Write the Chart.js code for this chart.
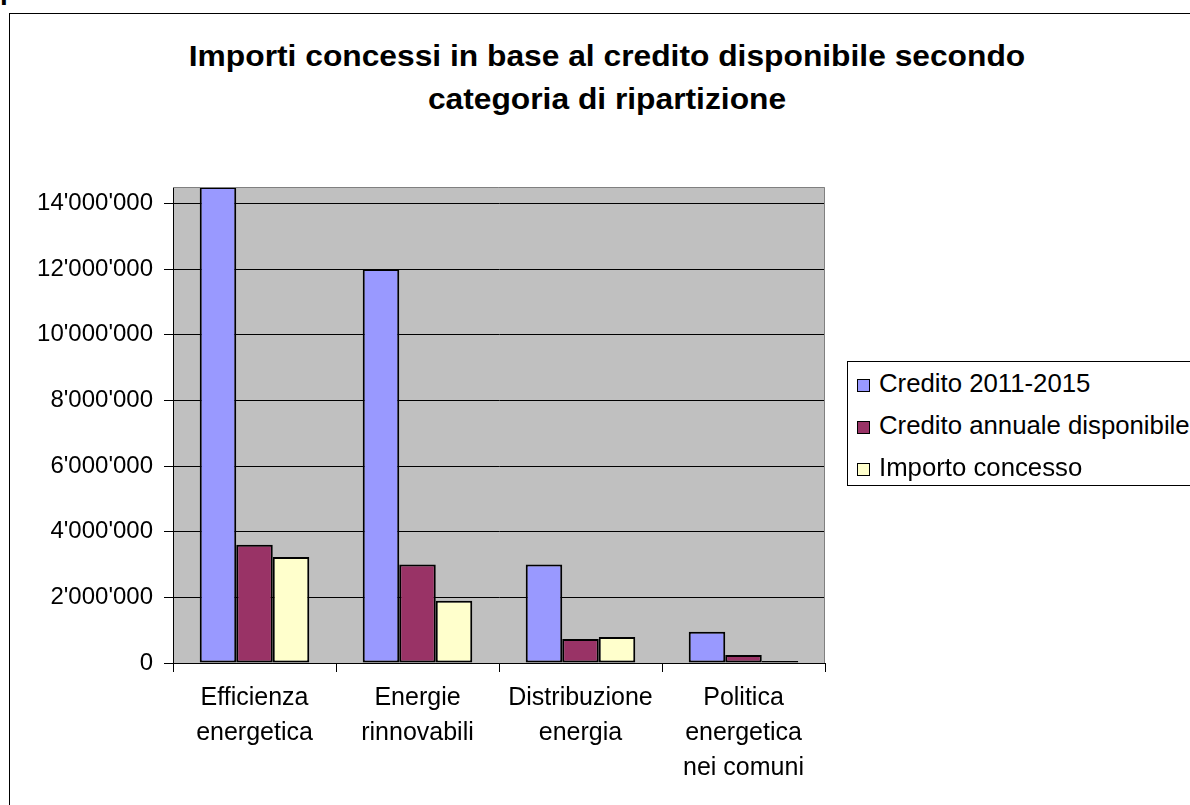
<!DOCTYPE html>
<html>
<head>
<meta charset="utf-8">
<script src="https://cdn.jsdelivr.net/npm/chart.js@4/dist/chart.umd.min.js"></script>
<style>
  html, body {
    margin: 0;
    padding: 0;
    width: 1190px;
    height: 805px;
    overflow: hidden;
    background: #fff;
    font-family: Arial, 'Liberation Sans', sans-serif;
  }
  .frame {
    position: absolute;
    left: 9px;
    top: 13px;
    width: 1400px;
    height: 1000px;
    border: 1px solid #000;
  }
  .stray {
    position: absolute;
    left: 0;
    top: -24px;
    font-size: 28px;
    line-height: 28px;
    font-weight: bold;
  }
  .title {
    position: absolute;
    left: 107px;
    width: 1000px;
    top: 35px;
    text-align: center;
    font-size: 29px;
    line-height: 43px;
    font-weight: bold;
    color: #000;
    transform: scaleX(1.095);
    transform-origin: 500px 0;
  }
  canvas {
    position: absolute;
    left: 0;
    top: 0;
  }
  .legend {
    position: absolute;
    left: 847px;
    top: 361px;
    width: 400px;
    height: 125px;
    border: 1px solid #000;
    background: #fff;
    box-sizing: border-box;
  }
  .legend__item {
    height: 42px;
    line-height: 42px;
    font-size: 25px;
    white-space: nowrap;
    position: relative;
    padding-left: 31px;
  }
  .legend__text {
    display: inline-block;
    transform: scaleX(1.03);
    transform-origin: 0 0;
  }
  .legend__box {
    position: absolute;
    left: 9px;
    top: 17px;
    width: 11px;
    height: 11px;
    border: 1px solid #000;
  }
</style>
</head>
<body>
<div class="frame"></div>
<div class="stray">p</div>
<div class="title">Importi concessi in base al credito disponibile secondo<br>categoria di ripartizione</div>
<canvas id="chart" width="1190" height="805"></canvas>
<div class="legend" data-type="legend"></div>

<script>
const categories = [
  ['Efficienza', 'energetica'],
  ['Energie', 'rinnovabili'],
  ['Distribuzione', 'energia'],
  ['Politica', 'energetica', 'nei comuni']
]
const seriesNames = ['Credito 2011-2015', 'Credito annuale disponibile', 'Importo concesso']
const credito = [14500000, 12000000, 3000000, 950000]
const creditoAnnuale = [3600000, 3000000, 730000, 240000]
const importoConcesso = [3230000, 1900000, 790000, 60000]
const yTicks = [0, 2000000, 4000000, 6000000, 8000000, 10000000, 12000000, 14000000]
const colors = ['#9999FF', '#993366', '#FFFFCC']

const plotBg = {
  id: 'plotBg',
  beforeDraw(chart) {
    const {ctx, chartArea: {left, top, right, bottom}} = chart
    ctx.save()
    ctx.fillStyle = '#C0C0C0'
    ctx.fillRect(left, top, right - left, bottom - top)
    ctx.restore()
  },
  afterDraw(chart) {
    const {ctx, chartArea: {left, top, right, bottom}} = chart
    ctx.save()
    ctx.strokeStyle = '#808080'
    ctx.lineWidth = 1
    ctx.beginPath()
    ctx.moveTo(left, top + 0.5)
    ctx.lineTo(right - 0.5, top + 0.5)
    ctx.lineTo(right - 0.5, bottom)
    ctx.stroke()
    ctx.restore()
  }
}

const formatNumber = v => String(Math.round(v)).replace(/\B(?=(\d{3})+(?!\d))/g, "'")

const datasets = [credito, creditoAnnuale, importoConcesso].map((data, i) => ({
  label: seriesNames[i],
  data,
  backgroundColor: colors[i],
  borderColor: '#000',
  borderWidth: 2,
  borderSkipped: false,
  barPercentage: 1,
  categoryPercentage: 0.672
}))

new Chart(document.getElementById('chart'), {
  type: 'bar',
  data: {labels: categories, datasets},
  plugins: [plotBg],
  options: {
    responsive: false,
    animation: false,
    layout: {padding: {top: 187, right: 365, left: 0, bottom: 0}},
    plugins: {
      legend: {display: false},
      title: {display: false},
      tooltip: {enabled: false}
    },
    scales: {
      x: {
        afterFit: scale => { scale.height = 142 },
        grid: {
          offset: true,
          drawOnChartArea: false,
          color: '#000',
          tickLength: 9
        },
        border: {color: '#000', width: 1},
        ticks: {
          color: '#000',
          padding: 9,
          font: {family: "Arial, 'Liberation Sans'", size: 25, lineHeight: '35px'}
        }
      },
      y: {
        min: 0,
        max: 14500000,
        afterFit: scale => { scale.width = 173 },
        afterBuildTicks: scale => {
          scale.ticks = yTicks.map(value => ({value}))
        },
        grid: {
          color: '#000',
          lineWidth: 1,
          tickLength: 9
        },
        border: {color: '#000', width: 1},
        ticks: {
          autoSkip: false,
          color: '#000',
          padding: 11,
          font: {family: "Arial, 'Liberation Sans'", size: 24},
          callback: v => formatNumber(v)
        }
      }
    }
  }
})

const legendEl = document.querySelector('[data-type=legend]')
legendEl.innerHTML = seriesNames.map((name, i) => `
  <div class="legend__item"><span class="legend__box" style="background:${colors[i]}"></span><span class="legend__text">${name}</span></div>
`).join('')
</script>
</body>
</html>
